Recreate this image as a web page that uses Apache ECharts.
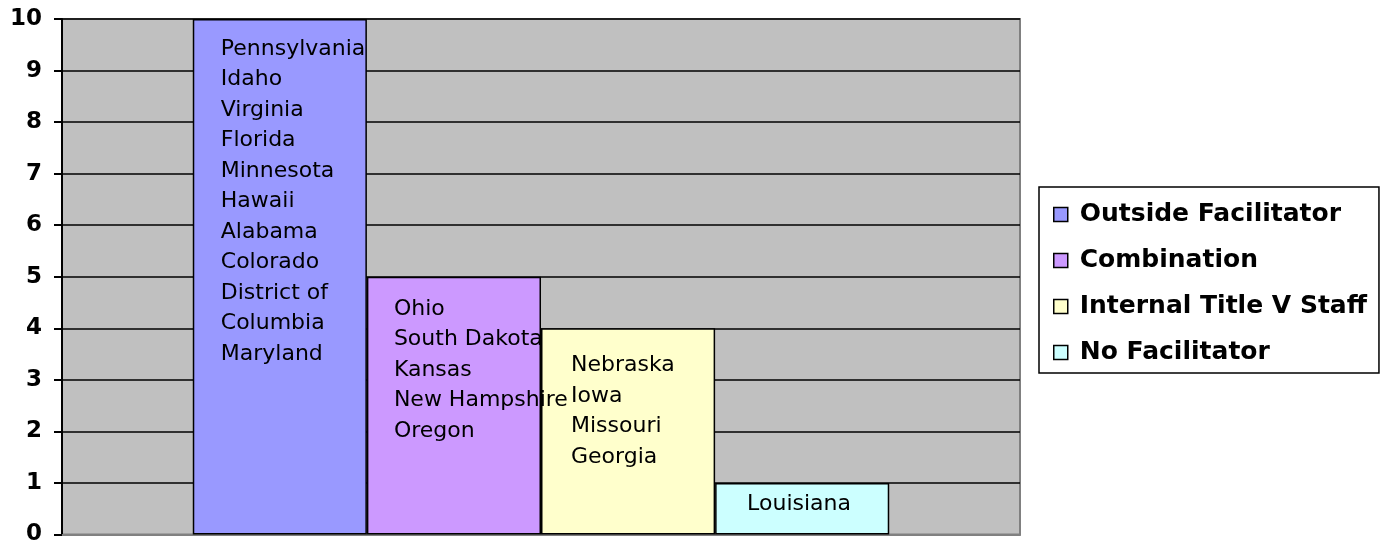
<!DOCTYPE html>
<html>
<head>
<meta charset="utf-8">
<script src="https://cdn.jsdelivr.net/npm/echarts@6/dist/echarts.min.js"></script>
<style>
  html, body { margin: 0; padding: 0; background: #fff; }
  #chart { width: 1382px; height: 546px; }
</style>
</head>
<body>
<div id="chart"></div>
<script>
// data
let categories = ['Facilitator'];
let seriesNames = ['Outside Facilitator', 'Combination', 'Internal Title V Staff', 'No Facilitator'];
let seriesValues = [10, 5, 4, 1];
let seriesColors = ['#9999FF', '#CC99FF', '#FFFFCC', '#CCFFFF'];
let outsideStates = ['Pennsylvania', 'Idaho', 'Virginia', 'Florida', 'Minnesota', 'Hawaii',
    'Alabama', 'Colorado', 'District of Columbia', 'Maryland'];
let combinationStates = ['Ohio', 'South Dakota', 'Kansas', 'New Hampshire', 'Oregon'];
let internalStates = ['Nebraska', 'Iowa', 'Missouri', 'Georgia'];
let noneStates = ['Louisiana'];
let stateLists = [outsideStates, combinationStates, internalStates, noneStates];
let yTicks = [0, 1, 2, 3, 4, 5, 6, 7, 8, 9, 10];

// label offset inside each bar
let labelPos = [[28, 15], [27, 17], [30, 22], [32, 6]];

let chart = echarts.init(document.getElementById('chart'));

let series = seriesNames.map(function(name, i) {
    return {
        name: name,
        type: 'bar',
        data: [seriesValues[i]],
        barGap: '0%',
        barCategoryGap: '27.3%',
        itemStyle: {
            color: seriesColors[i],
            borderColor: '#000',
            borderWidth: 1.5
        },
        label: {
            show: true,
            position: labelPos[i],
            formatter: function() { return stateLists[i].join('\n'); },
            fontFamily: 'DejaVu Sans',
            fontSize: 22,
            lineHeight: 30.5,
            color: '#000',
            align: 'left',
            verticalAlign: 'top',
            width: 185,
            overflow: 'break'
        }
    };
});

chart.setOption({
    animation: false,
    backgroundColor: '#fff',
    grid: {
        left: 62,
        right: 362,
        top: 19,
        bottom: 8,
        show: true,
        backgroundColor: '#C0C0C0',
        borderColor: '#808080',
        borderWidth: 2
    },
    legend: {
        orient: 'vertical',
        left: 1039,
        top: 187,
        padding: [15, 12, 8, 14],
        itemGap: 21,
        itemWidth: 14,
        itemHeight: 14,
        icon: 'rect',
        borderColor: '#000',
        borderWidth: 1.5,
        backgroundColor: '#fff',
        itemStyle: { borderColor: '#000', borderWidth: 1.5 },
        textStyle: {
            fontFamily: 'DejaVu Sans',
            fontWeight: 'bold',
            fontSize: 25,
            lineHeight: 24,
            color: '#000',
            padding: [0, 0, 0, 7]
        },
        data: seriesNames
    },
    xAxis: {
        type: 'category',
        data: categories,
        axisLine: { show: true, lineStyle: { color: '#808080', width: 2 } },
        axisTick: { show: false },
        axisLabel: { show: false }
    },
    yAxis: {
        type: 'value',
        min: yTicks[0],
        max: yTicks[yTicks.length - 1],
        interval: 1,
        axisLine: { show: true, lineStyle: { color: '#000', width: 2 } },
        axisTick: { show: true, length: 8, lineStyle: { color: '#000', width: 2 } },
        axisLabel: {
            margin: 20,
            fontFamily: 'DejaVu Sans',
            fontWeight: 'bold',
            fontSize: 23,
            color: '#000'
        },
        splitLine: { show: true, lineStyle: { color: '#000', width: 1.5 } }
    },
    series: series
});
</script>
</body>
</html>
